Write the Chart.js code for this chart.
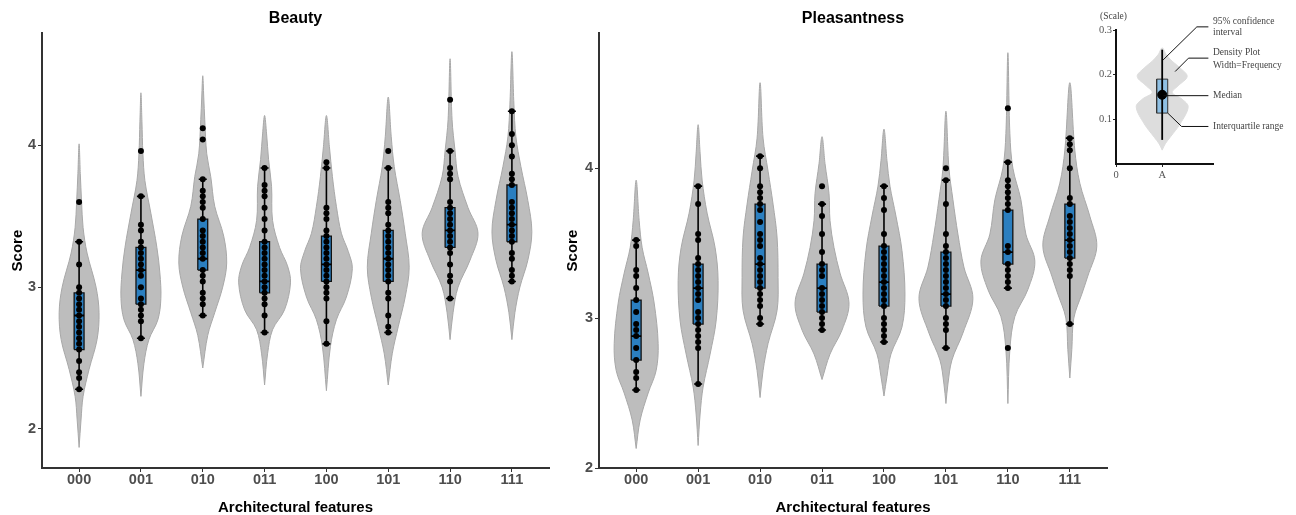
<!DOCTYPE html>
<html>
<head>
<meta charset="utf-8">
<script src="https://cdn.jsdelivr.net/npm/chart.js@4.4.1/dist/chart.umd.min.js"></script>
<style>
html, body { margin: 0; padding: 0; background: #fff; }
#wrap { position: relative; width: 1296px; height: 515px; overflow: hidden; }
.pane { position: absolute; }
#left { left: 0; top: 0; }
#right { left: 560px; top: 0; }
#inset { left: 1090px; top: 0; }
.note { position: absolute; font-family: "Liberation Serif", "DejaVu Serif", serif; font-size: 9.5px; color: #444; white-space: nowrap; line-height: 11px; }
</style>
</head>
<body>
<div id="wrap">
  <canvas id="left" class="pane" width="560" height="515"></canvas>
  <canvas id="right" class="pane" width="560" height="515"></canvas>
  <canvas id="inset" class="pane" width="206" height="185"></canvas>
  <div class="note" style="left:1100px;top:11px">(Scale)</div>
  <div class="note" style="left:1213px;top:16px">95% confidence</div>
  <div class="note" style="left:1213px;top:27px">interval</div>
  <div class="note" style="left:1213px;top:47px">Density Plot</div>
  <div class="note" style="left:1213px;top:60px">Width=Frequency</div>
  <div class="note" style="left:1213px;top:90px">Median</div>
  <div class="note" style="left:1213px;top:121px">Interquartile range</div>
</div>
<script>
const categories = ['000', '001', '010', '011', '100', '101', '110', '111']

// ---- Beauty ----
const beautyLow = [2.28, 2.64, 2.80, 2.68, 2.60, 2.68, 2.92, 3.04]
const beautyQ1 = [2.56, 2.88, 3.12, 2.96, 3.04, 3.04, 3.28, 3.32]
const beautyMedian = [2.80, 3.12, 3.20, 3.04, 3.16, 3.20, 3.40, 3.44]
const beautyQ3 = [2.96, 3.28, 3.48, 3.32, 3.36, 3.40, 3.56, 3.72]
const beautyHigh = [3.32, 3.64, 3.76, 3.84, 3.84, 3.84, 3.96, 4.24]
const beautyScores = [
  [3.60, 3.32, 3.16, 3.00, 2.96, 2.92, 2.88, 2.84, 2.80, 2.76, 2.72, 2.68, 2.64, 2.60, 2.56, 2.48, 2.40, 2.36, 2.28],
  [3.96, 3.64, 3.44, 3.40, 3.32, 3.28, 3.24, 3.20, 3.16, 3.12, 3.08, 3.00, 2.92, 2.88, 2.84, 2.80, 2.76, 2.64],
  [4.12, 4.04, 3.76, 3.68, 3.64, 3.60, 3.56, 3.48, 3.40, 3.36, 3.32, 3.28, 3.24, 3.20, 3.12, 3.08, 3.04, 2.96, 2.92, 2.88, 2.80],
  [3.84, 3.72, 3.68, 3.64, 3.56, 3.48, 3.40, 3.32, 3.28, 3.24, 3.20, 3.16, 3.12, 3.08, 3.04, 3.00, 2.96, 2.92, 2.88, 2.80, 2.68],
  [3.88, 3.84, 3.56, 3.52, 3.48, 3.40, 3.36, 3.32, 3.28, 3.24, 3.20, 3.16, 3.12, 3.08, 3.04, 3.00, 2.96, 2.92, 2.76, 2.60],
  [3.96, 3.84, 3.60, 3.56, 3.52, 3.44, 3.40, 3.36, 3.32, 3.28, 3.24, 3.20, 3.16, 3.12, 3.08, 3.04, 2.96, 2.92, 2.80, 2.72, 2.68],
  [4.32, 3.96, 3.84, 3.80, 3.76, 3.60, 3.56, 3.52, 3.48, 3.44, 3.40, 3.36, 3.32, 3.28, 3.24, 3.16, 3.08, 3.04, 2.92],
  [4.24, 4.08, 4.00, 3.92, 3.80, 3.76, 3.72, 3.60, 3.56, 3.52, 3.48, 3.44, 3.40, 3.36, 3.32, 3.24, 3.20, 3.12, 3.08, 3.04]
]
// density profile: [score, density]
const beautyDensity = [
  [[1.87, 0], [2.07, 2], [2.23, 4], [2.42, 10], [2.63, 18], [2.82, 20], [3.0, 17], [3.24, 8], [3.42, 4], [3.6, 2.5], [3.8, 1.2], [4.01, 0]],
  [[2.23, 0], [2.46, 3], [2.63, 8], [2.77, 17], [2.92, 20], [3.1, 19], [3.28, 16], [3.52, 10], [3.75, 4], [3.94, 2], [4.17, 1], [4.37, 0]],
  [[2.43, 0], [2.66, 5], [2.82, 12], [3.0, 20], [3.17, 24], [3.36, 21], [3.57, 12], [3.78, 8], [3.94, 4], [4.18, 2], [4.34, 1], [4.49, 0]],
  [[2.31, 0], [2.53, 3], [2.7, 8], [2.84, 20], [3.03, 26], [3.15, 23], [3.28, 15], [3.47, 8], [3.71, 7], [3.9, 4], [4.08, 2], [4.21, 0]],
  [[2.27, 0], [2.58, 4], [2.77, 10], [2.93, 20], [3.13, 26], [3.25, 22], [3.38, 15], [3.57, 10], [3.78, 6], [3.99, 3], [4.21, 0]],
  [[2.31, 0], [2.53, 4], [2.72, 10], [2.93, 17], [3.14, 21], [3.38, 17], [3.61, 12], [3.85, 6], [4.06, 3], [4.34, 0]],
  [[2.63, 0], [2.82, 3], [3.0, 8], [3.19, 20], [3.38, 28], [3.56, 18], [3.78, 8], [3.96, 5], [4.18, 2], [4.61, 0]],
  [[2.63, 0], [2.82, 3], [3.0, 8], [3.19, 16], [3.39, 20], [3.61, 16], [3.85, 9], [4.06, 4], [4.29, 2], [4.66, 0]]
]

// ---- Pleasantness ----
const pleasLow = [2.52, 2.56, 2.96, 2.92, 2.84, 2.80, 3.20, 2.96]
const pleasQ1 = [2.72, 2.96, 3.20, 3.04, 3.08, 3.08, 3.36, 3.40]
const pleasMedian = [2.88, 3.20, 3.36, 3.20, 3.24, 3.16, 3.44, 3.52]
const pleasQ3 = [3.12, 3.36, 3.76, 3.36, 3.48, 3.44, 3.72, 3.76]
const pleasHigh = [3.52, 3.88, 4.08, 3.76, 3.88, 3.92, 4.04, 4.20]
const pleasScores = [
  [3.52, 3.48, 3.32, 3.28, 3.20, 3.12, 3.04, 2.96, 2.92, 2.88, 2.80, 2.72, 2.64, 2.60, 2.52],
  [3.88, 3.76, 3.56, 3.52, 3.40, 3.36, 3.32, 3.28, 3.24, 3.20, 3.16, 3.12, 3.04, 3.00, 2.96, 2.92, 2.88, 2.84, 2.80, 2.56],
  [4.08, 4.00, 3.88, 3.84, 3.80, 3.76, 3.72, 3.64, 3.56, 3.52, 3.48, 3.40, 3.36, 3.32, 3.28, 3.24, 3.20, 3.16, 3.12, 3.08, 3.00, 2.96],
  [3.88, 3.76, 3.68, 3.56, 3.44, 3.36, 3.32, 3.28, 3.20, 3.16, 3.12, 3.08, 3.04, 3.00, 2.96, 2.92],
  [3.88, 3.80, 3.72, 3.56, 3.48, 3.44, 3.40, 3.36, 3.32, 3.28, 3.24, 3.20, 3.16, 3.12, 3.08, 3.00, 2.96, 2.92, 2.88, 2.84],
  [4.00, 3.92, 3.76, 3.56, 3.48, 3.44, 3.40, 3.36, 3.32, 3.28, 3.24, 3.20, 3.16, 3.12, 3.08, 3.00, 2.96, 2.92, 2.80],
  [4.40, 4.04, 3.92, 3.88, 3.84, 3.80, 3.76, 3.72, 3.48, 3.44, 3.36, 3.32, 3.28, 3.24, 3.20, 2.80],
  [4.20, 4.16, 4.12, 4.00, 3.80, 3.76, 3.68, 3.64, 3.60, 3.56, 3.52, 3.48, 3.44, 3.40, 3.36, 3.32, 3.28, 2.96]
]
const pleasDensity = [
  [[2.13, 0], [2.32, 4], [2.5, 12], [2.65, 20], [2.83, 22], [3.1, 18], [3.3, 12], [3.47, 6], [3.65, 3], [3.92, 0]],
  [[2.15, 0], [2.36, 2], [2.54, 5], [2.76, 12], [2.98, 18], [3.25, 20], [3.47, 17], [3.7, 9], [3.92, 4], [4.1, 2], [4.29, 0]],
  [[2.47, 0], [2.65, 3], [2.83, 8], [3.05, 17], [3.27, 18], [3.54, 17], [3.76, 13], [3.98, 8], [4.2, 3], [4.57, 0]],
  [[2.59, 0], [2.76, 8], [2.92, 20], [3.1, 27], [3.3, 18], [3.47, 12], [3.65, 8], [3.83, 7], [4.03, 3], [4.21, 0]],
  [[2.48, 0], [2.61, 3], [2.76, 7], [2.94, 18], [3.16, 21], [3.45, 18], [3.68, 12], [3.88, 6], [4.05, 3], [4.26, 0]],
  [[2.43, 0], [2.56, 2], [2.72, 6], [2.9, 17], [3.13, 27], [3.34, 18], [3.56, 12], [3.79, 7], [4.0, 3], [4.38, 0]],
  [[2.43, 0], [2.79, 2], [3.01, 7], [3.19, 20], [3.38, 27], [3.56, 18], [3.79, 13], [4.0, 5], [4.23, 2], [4.77, 0]],
  [[2.6, 0], [2.79, 2], [3.0, 4], [3.16, 12], [3.28, 18], [3.48, 27], [3.68, 20], [3.9, 10], [4.12, 5], [4.57, 0]]
]

// ---- inset (how to read) ----
const insetDensity = [[0.031, 0], [0.045, 3], [0.06, 8], [0.09, 18], [0.128, 26], [0.145, 20], [0.16, 10], [0.175, 16], [0.196, 25], [0.215, 18], [0.23, 10], [0.245, 4], [0.26, 0]]
const insetBox = [0.054, 0.114, 0.155, 0.19, 0.256] // low, q1, median, q3, high
const insetLeaders = [
  [[1.02, 0.233], [1.75, 0.307], [2.0, 0.307]],
  [[1.28, 0.207], [1.57, 0.237], [2.0, 0.237]],
  [[1.03, 0.153], [2.0, 0.153]],
  [[1.12, 0.114], [1.42, 0.084], [2.0, 0.084]]
]

const FONT = 'Liberation Sans, Arial, Helvetica, sans-serif'
const SERIF = 'Liberation Serif, Times New Roman, serif'
const VIOLIN_FILL = 'rgb(189,189,189)'
const VIOLIN_EDGE = 'rgb(168,168,168)'
const BOX_FILL = '#2b7fc0'
const boxHalf = 0.08
const capHalf = 0.065

function violinPoints(i, prof, k) {
  const right = prof.map(p => ({x: i + p[1] * k, y: p[0]}))
  const left = prof.slice().reverse().map(p => ({x: i - p[1] * k, y: p[0]}))
  return right.concat(left.slice(1))
}

function boxPoints(i, q1, q3, w) {
  return [{x: i - w, y: q1}, {x: i + w, y: q1}, {x: i + w, y: q3}, {x: i - w, y: q3}, {x: i - w, y: q1}]
}

function buildDatasets(density, low, q1, med, q3, high, scores) {
  const ds = []
  density.forEach((prof, i) => {
    ds.push({data: violinPoints(i, prof, 1 / 62), fill: 'shape', backgroundColor: VIOLIN_FILL,
      borderColor: VIOLIN_EDGE, borderWidth: 1, tension: 0.35, pointRadius: 0, order: 5})
  })
  const whisk = []
  low.forEach((lo, i) => {
    whisk.push({x: i, y: lo}, {x: i, y: high[i]}, {x: i, y: null})
    whisk.push({x: i - capHalf, y: lo}, {x: i + capHalf, y: lo}, {x: i, y: null})
    whisk.push({x: i - capHalf, y: high[i]}, {x: i + capHalf, y: high[i]}, {x: i, y: null})
  })
  ds.push({data: whisk, borderColor: '#000', borderWidth: 1.6, pointRadius: 0, fill: false, order: 4, spanGaps: false})
  q1.forEach((v, i) => {
    ds.push({data: boxPoints(i, v, q3[i], boxHalf), fill: 'shape', backgroundColor: BOX_FILL,
      borderColor: '#111', borderWidth: 1.3, pointRadius: 0, tension: 0, order: 3})
  })
  const medLines = []
  med.forEach((m, i) => { medLines.push({x: i - boxHalf, y: m}, {x: i + boxHalf, y: m}, {x: i, y: null}) })
  ds.push({data: medLines, borderColor: '#000', borderWidth: 1.8, pointRadius: 0, fill: false, order: 2, spanGaps: false})
  const dots = []
  scores.forEach((arr, i) => arr.forEach(v => dots.push({x: i, y: v})))
  ds.push({data: dots, showLine: false, pointRadius: 3, pointBackgroundColor: '#000',
    pointBorderColor: '#000', pointBorderWidth: 0, order: 1})
  return ds
}

function axisStyle() {
  return {
    grid: {drawOnChartArea: false, drawTicks: true, tickLength: 4, color: '#333', lineWidth: 1},
    border: {display: true, color: '#333', width: 2}
  }
}

function makePanel(id, title, yMin, yMax, yWidth, titlePad, padRight, datasets) {
  return new Chart(document.getElementById(id), {
    type: 'line',
    data: {datasets: datasets},
    options: {
      responsive: false,
      animation: false,
      devicePixelRatio: 1,
      layout: {padding: {left: 0, right: padRight, top: 0, bottom: 0}},
      plugins: {
        legend: {display: false},
        tooltip: {enabled: false},
        title: {display: true, text: title, fullSize: false, color: '#000',
          font: {family: FONT, size: 16, weight: 'bold'}, padding: {top: 9, bottom: 5}}
      },
      scales: {
        x: {
          type: 'linear', min: -0.6, max: 7.6,
          afterBuildTicks: s => { s.ticks = categories.map((c, i) => ({value: i})) },
          afterFit: s => { s.height = 47 },
          ticks: {callback: v => categories[v], color: '#4d4d4d', autoSkip: false, maxRotation: 0,
            padding: -1, font: {family: FONT, size: 14.5, weight: 'bold'}},
          title: {display: true, text: 'Architectural features', color: '#000',
            font: {family: FONT, size: 15, weight: 'bold', lineHeight: 1}, padding: {top: 4, bottom: 0}},
          ...axisStyle()
        },
        y: {
          type: 'linear', min: yMin, max: yMax,
          afterBuildTicks: s => { s.ticks = [2, 3, 4].map(v => ({value: v})) },
          afterFit: s => { s.width = yWidth },
          ticks: {color: '#4d4d4d', padding: 2, font: {family: FONT, size: 14.5, weight: 'bold'}},
          title: {display: true, text: 'Score', color: '#000',
            font: {family: FONT, size: 15, weight: 'bold'}, padding: {top: titlePad, bottom: 0}},
          ...axisStyle()
        }
      }
    }
  })
}

makePanel('left', 'Beauty', 1.725, 4.79, 42, 9, 11,
  buildDatasets(beautyDensity, beautyLow, beautyQ1, beautyMedian, beautyQ3, beautyHigh, beautyScores))
makePanel('right', 'Pleasantness', 2, 4.9, 39, 4, 13,
  buildDatasets(pleasDensity, pleasLow, pleasQ1, pleasMedian, pleasQ3, pleasHigh, pleasScores))

// inset diagram
const insetSets = [
  {data: violinPoints(1, insetDensity, 1 / 46.2), fill: 'shape', backgroundColor: 'rgb(221,221,221)',
    borderColor: 'rgb(221,221,221)', borderWidth: 1, tension: 0.35, pointRadius: 0, order: 5},
  {data: boxPoints(1, insetBox[1], insetBox[3], 0.12), fill: 'shape', backgroundColor: '#8fc0e4',
    borderColor: '#333', borderWidth: 1, pointRadius: 0, order: 3},
  {data: [{x: 1, y: insetBox[0]}, {x: 1, y: insetBox[4]}], borderColor: '#000', borderWidth: 1.8, pointRadius: 0, order: 2},
  {data: [{x: 1, y: insetBox[2]}], showLine: false, pointRadius: 4.5, pointBackgroundColor: '#000',
    pointBorderColor: '#000', order: 1}
]
insetLeaders.forEach(l => insetSets.push({data: l.map(p => ({x: p[0], y: p[1]})), borderColor: '#111',
  borderWidth: 1, pointRadius: 0, clip: false, order: 0}))

new Chart(document.getElementById('inset'), {
  type: 'line',
  data: {datasets: insetSets},
  options: {
    responsive: false,
    animation: false,
    devicePixelRatio: 1,
    layout: {padding: {left: 0, right: 83, top: 30, bottom: 0}},
    plugins: {legend: {display: false}, tooltip: {enabled: false}},
    scales: {
      x: {
        type: 'linear', min: 0, max: 2.1,
        afterBuildTicks: s => { s.ticks = [{value: 0}, {value: 1}] },
        afterFit: s => { s.height = 21 },
        ticks: {callback: v => (v === 0 ? '0' : 'A'), color: '#555', padding: 2, font: {family: SERIF, size: 10.5}},
        grid: {drawOnChartArea: false, tickLength: 3, color: '#222', lineWidth: 1},
        border: {color: '#111', width: 2}
      },
      y: {
        type: 'linear', min: 0, max: 0.3,
        afterBuildTicks: s => { s.ticks = [0.1, 0.2, 0.3].map(v => ({value: v})) },
        afterFit: s => { s.width = 26 },
        ticks: {callback: v => v.toFixed(1), color: '#555', padding: 1, font: {family: SERIF, size: 10.5}},
        grid: {drawOnChartArea: false, tickLength: 3, color: '#222', lineWidth: 1},
        border: {color: '#111', width: 2}
      }
    }
  }
})
</script>
</body>
</html>
